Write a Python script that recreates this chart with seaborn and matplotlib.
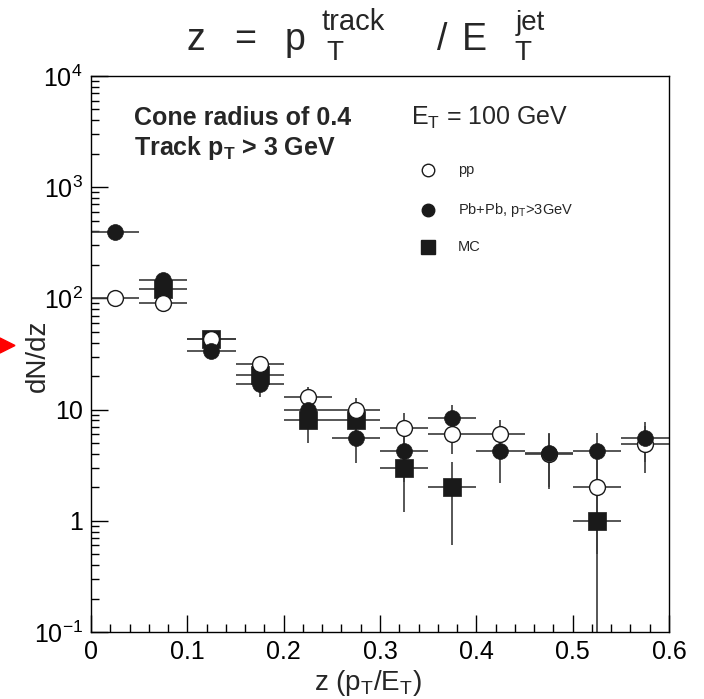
import numpy as np
import pandas as pd
import matplotlib
matplotlib.use("Agg")
import matplotlib.pyplot as plt
import seaborn as sns
from matplotlib.lines import Line2D
from matplotlib.patches import Polygon
from matplotlib.ticker import FixedLocator, FixedFormatter, LogLocator, MultipleLocator, NullFormatter

# ---------------- data ----------------
pp_z = [0.025, 0.075, 0.125, 0.175, 0.225, 0.275, 0.325, 0.375, 0.425, 0.475, 0.525, 0.575]
pp_y = [100, 91, 43, 25.7, 13, 10, 6.8, 6.0, 6.0, 4.0, 2.0, 4.9]
pp_err = [3, 6, 3, 4.5, 3, 2.8, 2.6, 2.0, 2.1, 2.0, 1.5, 2.2]

pbpb_z = [0.025, 0.075, 0.125, 0.175, 0.225, 0.275, 0.325, 0.375, 0.425, 0.475, 0.525, 0.575]
pbpb_y = [395, 145, 33.6, 17, 10, 5.6, 4.25, 8.4, 4.2, 4.05, 4.2, 5.6]
pbpb_err = [15, 10, 5, 4, 3, 2.3, 2.0, 2.7, 2.0, 2.1, 2.0, 2.2]

mc_z = [0.075, 0.125, 0.175, 0.225, 0.275, 0.325, 0.375, 0.525]
mc_y = [122, 43, 20.5, 8, 8, 3.0, 2.0, 1.0]
mc_err = [8, 3, 3, 3, 2.5, 1.8, 1.4, 0.99]

bin_half = 0.025

y_ticks = [0.1, 1, 10, 100, 1000, 10000]
y_ticklabels = [r"$10^{-1}$", "1", "10", r"$10^{2}$", r"$10^{3}$", r"$10^{4}$"]
x_ticks = [0, 0.1, 0.2, 0.3, 0.4, 0.5, 0.6]
x_ticklabels = ["0", "0.1", "0.2", "0.3", "0.4", "0.5", "0.6"]

legend_labels = ["pp", r"Pb+Pb, p$_{\mathrm{T}}$>3GeV", "MC"]

# ---------------- style ----------------
sns.set_theme(style="ticks")
plt.rcParams["font.family"] = ["Liberation Sans", "DejaVu Sans"]
plt.rcParams["mathtext.fontset"] = "custom"
plt.rcParams["mathtext.rm"] = "Liberation Sans"
plt.rcParams["mathtext.it"] = "Liberation Sans:italic"
plt.rcParams["mathtext.bf"] = "Liberation Sans:bold"

W, H = 704, 699
fig = plt.figure(figsize=(W / 100, H / 100), dpi=100)


def fx(x):
    return x / W


def fy(y):
    return 1 - y / H


ax = fig.add_axes([fx(91), fy(632), (669 - 91) / W, (632 - 76) / H])

df_pp = pd.DataFrame({"z": pp_z, "y": pp_y, "err": pp_err})
df_pb = pd.DataFrame({"z": pbpb_z, "y": pbpb_y, "err": pbpb_err})
df_mc = pd.DataFrame({"z": mc_z, "y": mc_y, "err": mc_err})

ecol = "#3a3a3a"
for d in (df_mc, df_pp, df_pb):
    ax.errorbar(d["z"], d["y"], xerr=bin_half, yerr=d["err"], fmt="none",
                ecolor=ecol, elinewidth=1.2, capsize=0, zorder=2)

sns.scatterplot(data=df_mc, x="z", y="y", marker="s", s=150, color="#1a1a1a",
                edgecolor="#1a1a1a", linewidth=0.5, ax=ax, zorder=3, legend=False)
sns.scatterplot(data=df_pp, x="z", y="y", marker="o", s=130, color="white",
                edgecolor="#1a1a1a", linewidth=1.0, ax=ax, zorder=4, legend=False)
sns.scatterplot(data=df_pb, x="z", y="y", marker="o", s=130, color="#1a1a1a",
                edgecolor="#1a1a1a", linewidth=0.5, ax=ax, zorder=5, legend=False)

ax.set_yscale("log")
ax.set_xlim(0, 0.6)
ax.set_ylim(0.1, 10000)

ax.yaxis.set_major_locator(FixedLocator(y_ticks))
ax.yaxis.set_major_formatter(FixedFormatter(y_ticklabels))
ax.yaxis.set_minor_locator(LogLocator(base=10, subs=np.arange(2, 10), numticks=20))
ax.yaxis.set_minor_formatter(NullFormatter())
ax.xaxis.set_major_locator(FixedLocator(x_ticks))
ax.xaxis.set_major_formatter(FixedFormatter(x_ticklabels))
ax.xaxis.set_minor_locator(MultipleLocator(0.02))

ax.tick_params(which="both", direction="in", top=False, right=False, colors="black",
               labelsize=18)
ax.tick_params(which="major", length=12, width=1.0, pad=6)
ax.tick_params(which="minor", length=6, width=1.0)
for s in ax.spines.values():
    s.set_color("black")
    s.set_linewidth(1.0)

ax.set_xlabel(r"z (p$_{\mathrm{T}}$/E$_{\mathrm{T}}$)", fontsize=20)
ax.set_ylabel("dN/dz", fontsize=20)
ax.xaxis.set_label_coords((368 - 91) / 578, -(683 - 632) / 556)
ax.yaxis.set_label_coords(-(91 - 38) / 578, (632 - 356) / 556)
ax.xaxis.label.set_va("center")
ax.yaxis.label.set_va("center")

# title, ROOT TLatex style with stacked sub/superscripts
title_main = [("z", 196), ("=", 245), ("p", 295), ("/", 442), ("E", 474)]
for s, xc in title_main:
    fig.text(fx(xc), fy(50), s, fontsize=27, ha="center", va="baseline")
title_scripts = [("track", 321, 30, 21), ("T", 326, 60, 20), ("jet", 516, 30, 20), ("T", 514, 60, 20)]
for s, xl, yb, fs in title_scripts:
    fig.text(fx(xl), fy(yb), s, fontsize=fs, ha="left", va="baseline")

# annotations
fig.text(fx(134), fy(125), "Cone radius of 0.4", fontsize=18, fontweight="bold",
         ha="left", va="baseline")
fig.text(fx(134), fy(155), r"Track p$_{\mathbf{T}}$ > 3 GeV", fontsize=18, fontweight="bold",
         ha="left", va="baseline")
fig.text(fx(411), fy(125), r"E$_{\mathrm{T}}$ = 100 GeV", fontsize=18,
         ha="left", va="baseline")

# legend (manual, ROOT style)
leg_y = [170, 210, 247]
leg_markers = [("o", "white", 9), ("o", "#1a1a1a", 9), ("s", "#1a1a1a", 10)]
for (m, fc, ms), yy, lab in zip(leg_markers, leg_y, legend_labels):
    fig.add_artist(Line2D([fx(428)], [fy(yy)], marker=m, markersize=ms, markerfacecolor=fc,
                          markeredgecolor="#1a1a1a", linestyle="none",
                          transform=fig.transFigure))
    fig.text(fx(458), fy(yy), lab, fontsize=10.5, ha="left", va="center")

# red arrow marker at left edge
tri = np.array([[fx(0), fy(338)], [fx(15), fy(345.5)], [fx(0), fy(353)]])
fig.add_artist(Polygon(tri, closed=True, facecolor="red", edgecolor="red",
                       transform=fig.transFigure))

fig.savefig("out.png", dpi=100)
